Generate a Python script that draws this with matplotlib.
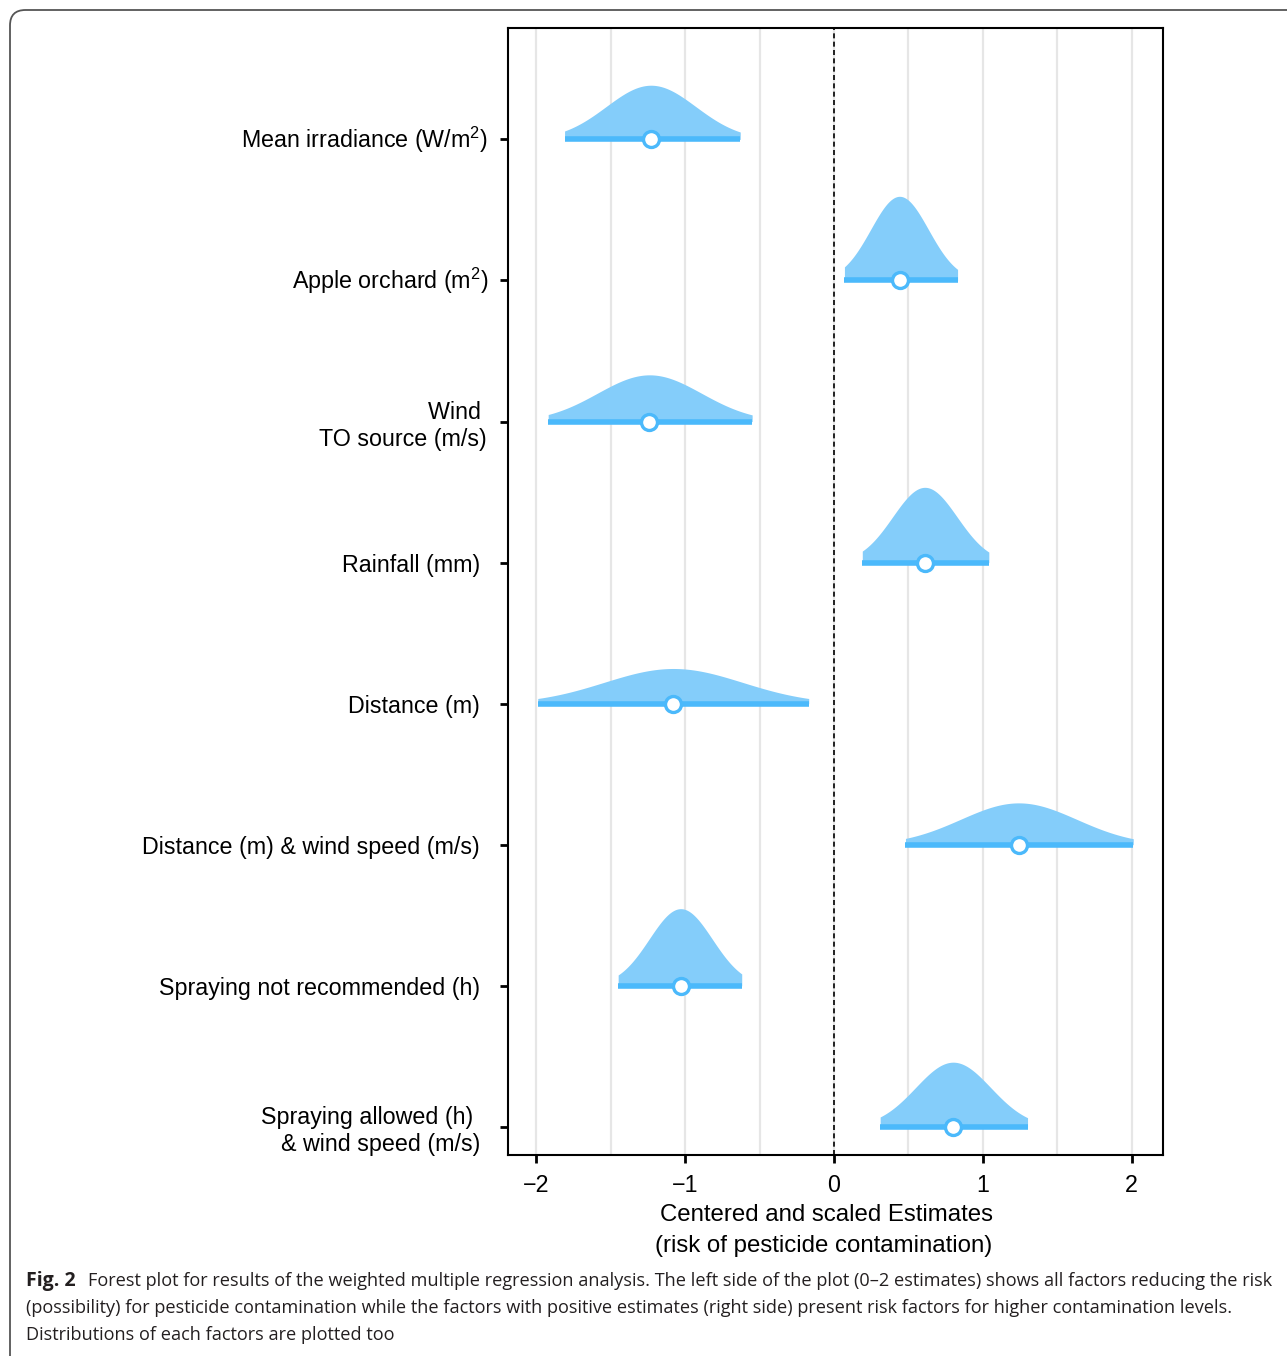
import numpy as np
import matplotlib
matplotlib.use("Agg")
import matplotlib.pyplot as plt
from matplotlib.patches import FancyBboxPatch
from matplotlib.transforms import ScaledTranslation

plt.rcParams["mathtext.fontset"] = "custom"
plt.rcParams["mathtext.rm"] = "Liberation Sans"
plt.rcParams["mathtext.it"] = "Liberation Sans:italic"
plt.rcParams["mathtext.bf"] = "Liberation Sans:bold"
plt.rcParams["mathtext.default"] = "rm"

# Regression terms, top to bottom
terms = [
    "Mean irradiance (W/m$^{2}$)",
    "Apple orchard (m$^{2}$)",
    "Wind \nTO source (m/s)",
    "Rainfall (mm)",
    "Distance (m)",
    "Distance (m) & wind speed (m/s)",
    "Spraying not recommended (h)",
    "Spraying allowed (h) \n& wind speed (m/s)",
]
# Centered and scaled estimates with 95% interval bounds
estimate = [-1.23, 0.44, -1.24, 0.61, -1.08, 1.24, -1.03, 0.80]
lower = [-1.81, 0.07, -1.92, 0.19, -1.99, 0.48, -1.45, 0.31]
upper = [-0.63, 0.83, -0.55, 1.04, -0.17, 2.01, -0.62, 1.30]

x_ticks = [-2, -1, 0, 1, 2]
x_tick_labels = ["−2", "−1", "0", "1", "2"]

FILL = "#84CDFA"
LINE = "#4BB9FB"
SANS = ["Liberation Sans", "DejaVu Sans"]
CAP_FONT = ["Open Sans", "DejaVu Sans"]

fig = plt.figure(figsize=(12.87, 13.56), dpi=100)
W, H = 1287, 1356

# Rounded frame around the figure panel
frame = FancyBboxPatch((10 / W, 10 / H), 1.2, 1.2, boxstyle="round,pad=0,rounding_size=0.012",
                       transform=fig.transFigure, fill=False, edgecolor="#555555",
                       linewidth=1.3, mutation_aspect=W / H)
frame.set_y(-1.2 + (1 - 10 / H))
frame.set_x(10 / W)
fig.patches.append(frame)

ax = fig.add_axes([508 / W, 1 - 1155 / H, (1163 - 508) / W, (1155 - 28) / H])

n = len(terms)
rows = np.arange(n, 0, -1)  # top term drawn highest
ridge_scale = 0.29

for y, est, lo, hi in zip(rows, estimate, lower, upper):
    sd = (hi - lo) / (2 * 1.96)
    xs = np.linspace(lo, hi, 300)
    dens = np.exp(-0.5 * ((xs - est) / sd) ** 2) / (sd * np.sqrt(2 * np.pi))
    ax.fill_between(xs, y, y + ridge_scale * dens, color=FILL, linewidth=0, zorder=2)
    ax.plot([lo, hi], [y, y], color=LINE, linewidth=4, solid_capstyle="butt", zorder=3)
    ax.plot(est, y, "o", markersize=11.5, markerfacecolor="white",
            markeredgecolor=LINE, markeredgewidth=2.4, zorder=4)

for g in np.arange(-2, 2.01, 0.5):
    ax.axvline(g, color="#E6E6E6", linewidth=1.6, zorder=1)
ax.axvline(0, color="black", linestyle=(0, (3, 2)), linewidth=1.2, zorder=1.5)

ax.set_xlim(-2.19, 2.21)
ax.set_ylim(0.80, n + 0.79)
ax.set_yticks(rows)
ax.set_yticklabels(terms, fontfamily=SANS, fontsize=16.75, multialignment="right")
ax.set_xticks(x_ticks)
ax.set_xticklabels(x_tick_labels, fontfamily=SANS, fontsize=16.75)
ax.tick_params(axis="both", length=6, width=2, color="black", labelcolor="black")
ax.tick_params(axis="y", pad=14)
ax.tick_params(axis="x", pad=8)
for s in ax.spines.values():
    s.set_linewidth(1.5)
    s.set_color("black")

# the upper three labels sit a little closer to their ticks; the superscript
# labels are lifted back onto the row centre
label_nudge_px = [(8, 3), (8, 3), (7, 0), (0, 0), (0, 0), (0, 0), (0, 0), (0, 0)]
for lab, (dx, dy) in zip(ax.get_yticklabels(), label_nudge_px):
    lab.set_transform(lab.get_transform()
                      + ScaledTranslation(dx / 100, dy / 100, fig.dpi_scale_trans))

fig.text(827 / W, 1 - 1215 / H, "Centered and scaled Estimates", ha="center", va="center",
         fontfamily=SANS, fontsize=17.3)
fig.text(824 / W, 1 - 1246 / H, "(risk of pesticide contamination)", ha="center", va="center",
         fontfamily=SANS, fontsize=17.3)

cap_color = "#231F20"
cap_size = 13.1
fig.text(26 / W, 1 - 1281 / H, "Fig. 2", ha="left", va="center", fontfamily=CAP_FONT,
         fontsize=14, fontweight="bold", color=cap_color)
fig.text(88 / W, 1 - 1281 / H,
         "Forest plot for results of the weighted multiple regression analysis. The left side of the plot "
         "(0–2 estimates) shows all factors reducing the risk",
         ha="left", va="center", fontfamily=CAP_FONT, fontsize=cap_size, color=cap_color)
fig.text(26 / W, 1 - 1308 / H,
         "(possibility) for pesticide contamination while the factors with positive estimates (right side) "
         "present risk factors for higher contamination levels.",
         ha="left", va="center", fontfamily=CAP_FONT, fontsize=cap_size, color=cap_color)
fig.text(26 / W, 1 - 1335 / H, "Distributions of each factors are plotted too",
         ha="left", va="center", fontfamily=CAP_FONT, fontsize=cap_size, color=cap_color)

fig.savefig("out.png", dpi=100, facecolor="white")
